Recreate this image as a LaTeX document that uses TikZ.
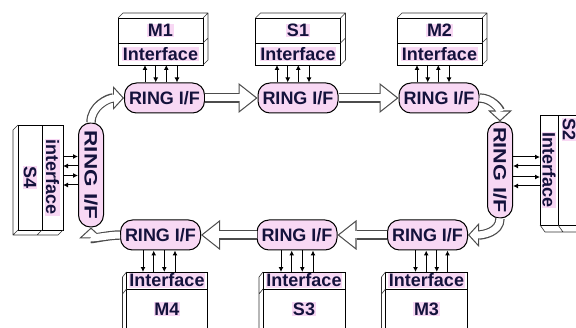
\documentclass[tikz,border=0pt]{standalone}
\usepackage{fontspec}
\setmainfont{Liberation Sans}
\usetikzlibrary{arrows.meta,calc}
\definecolor{pinkfill}{RGB}{248,216,244}
\definecolor{inknavy}{RGB}{20,18,60}
\setlength{\fboxsep}{0.6pt}
\newcommand{\pk}[1]{\colorbox{pinkfill}{#1}}

\begin{document}
\begin{tikzpicture}[x=1pt, y=1pt,
  every node/.style={font=\fontsize{18}{19}\selectfont\bfseries, text=inknavy, inner sep=0pt},
  ring/.style={draw, line width=1pt, fill=pinkfill, rounded corners=12pt, minimum width=80pt, minimum height=30pt},
  ringv/.style={ring, minimum width=25pt},
  cell/.style={draw, line width=0.8pt, fill=white, outer sep=0pt},
  depth/.style={draw=black!80, line width=0.6pt, line join=round},
  bus/.style={line width=1pt, -{Latex[length=5pt, width=5pt]}},
  flow/.style={draw=black!70, line width=9.4pt, -{Triangle[length=19pt, width=30pt, line width=0pt]},
    postaction={draw=white, line width=7pt, shorten >=1.9pt, -{Triangle[length=15.9pt, width=25.1pt, line width=0pt]}}},
  flowc/.style={draw=black!70, line width=9.4pt, -{Triangle[length=11pt, width=24pt, line width=0pt]},
    postaction={draw=white, line width=7pt, shorten >=1.6pt, -{Triangle[length=8.2pt, width=17.9pt, line width=0pt]}}}]
  \useasboundingbox (0,0) rectangle (576,327);

  % ring interfaces
  \node[ring] (r1) at (164.5,229) {RING I/F};
  \node[ring] (r2) at (298,229) {RING I/F};
  \node[ring] (r3) at (439,229) {RING I/F};
  \node[ringv, minimum height=96pt] (rv) at (500,157) {\rotatebox{-90}{\scalebox{1.2}[1]{RING I/F}}};
  \node[ring] (b3) at (427.5,92) {RING I/F};
  \node[ring] (b2) at (297,92) {RING I/F};
  \node[ring] (b1) at (160.5,92) {RING I/F};
  \node[ringv, minimum height=104pt] (lv) at (91,152) {\rotatebox{-90}{\scalebox{1.25}[1]{RING I/F}}};

  % modules above the ring
  \node[cell, minimum width=85pt, minimum height=25pt] (m1) at (160.5,296.5) {\pk{M1}};
  \node[cell, minimum width=85pt, minimum height=22pt, anchor=north] (m1-if) at (m1.south) {\pk{Interface}};
  \node[cell, minimum width=85pt, minimum height=25pt] (s1) at (298,296.5) {\pk{S1}};
  \node[cell, minimum width=85pt, minimum height=22pt, anchor=north] (s1-if) at (s1.south) {\pk{Interface}};
  \node[cell, minimum width=85pt, minimum height=25pt] (m2) at (439.5,296.5) {\pk{M2}};
  \node[cell, minimum width=85pt, minimum height=22pt, anchor=north] (m2-if) at (m2.south) {\pk{Interface}};
  \foreach \b in {m1,s1,m2}
    \draw[depth] (\b.north west) -- ++(5,5) -- ($(\b.north east)+(5,5)$) -- ($(\b-if.south east)+(5,5)$) -- (\b-if.south east)
      (\b.north east) -- ++(5,5) (\b-if.north east) -- ++(5,5);

  % modules below the ring
  \node[cell, minimum width=81pt, minimum height=17pt] (m4-if) at (167,46.5) {\pk{Interface}};
  \node[cell, minimum width=81pt, minimum height=40pt, anchor=north] (m4) at (m4-if.south) {\pk{M4}};
  \node[cell, minimum width=82pt, minimum height=17pt] (s3-if) at (304,46.5) {\pk{Interface}};
  \node[cell, minimum width=82pt, minimum height=40pt, anchor=north] (s3) at (s3-if.south) {\pk{S3}};
  \node[cell, minimum width=82pt, minimum height=17pt] (m3-if) at (426.5,46.5) {\pk{Interface}};
  \node[cell, minimum width=82pt, minimum height=40pt, anchor=north] (m3) at (m3-if.south) {\pk{M3}};
  \foreach \b in {m4,s3,m3}
    \draw[depth] (\b-if.north west) -- ++(-4,-5) -- ($(\b.south west)+(-4,-5)$) -- (\b.south west)
      (\b-if.south west) -- ++(-4,-5);

  % modules at the sides
  \node[cell, minimum width=24pt, minimum height=105pt] (s4) at (30,149.5) {\rotatebox{-90}{\pk{S4}}};
  \node[cell, minimum width=21pt, minimum height=105pt, anchor=west] (s4-if) at (s4.east) {\rotatebox{-90}{\pk{interface}}};
  \draw[depth] (s4.north west) -- ++(-5,-5) -- ($(s4.south west)+(-5,-5)$) -- ($(s4-if.south east)+(-5,-5)$) -- (s4-if.south east)
    (s4.south west) -- ++(-5,-5) (s4.south east) -- ++(-5,-5);
  \node[cell, minimum width=18pt, minimum height=110pt] (s2-if) at (549,157) {\rotatebox{-90}{\pk{Interface}}};
  \node[cell, minimum width=22pt, minimum height=110pt, anchor=west] (s2) at (s2-if.east) {\rotatebox{-90}{\makebox[104pt][l]{\pk{S2}}}};
  \draw[depth] (s2-if.south west) -- ++(5,-7) -- ($(s2.south east)+(5,-7)$)
    (s2-if.south east) -- ++(5,-7);

  % buses between ring interfaces and modules
  \foreach \r/\b/\c in {r1/m1/-3.5, r2/s1/-5, r3/m2/-6} {
    \foreach \dx in {-16,5.3}
      \draw[bus] ($(\r.north)+(\dx+\c,0)$) -- ($(\r.north |- \b-if.south)+(\dx+\c,0)$);
    \foreach \dx in {-5.3,16}
      \draw[bus] ($(\r.north |- \b-if.south)+(\dx+\c,0)$) -- ($(\r.north)+(\dx+\c,0)$);
  }
  \foreach \r/\b/\c in {b1/m4/-1.5, b2/s3/0, b3/m3/4} {
    \foreach \dx in {-16,5.3}
      \draw[bus] ($(\r.south)+(\dx+\c,0)$) -- ($(\r.south |- \b-if.north)+(\dx+\c,0)$);
    \foreach \dx in {-5.3,16}
      \draw[bus] ($(\r.south |- \b-if.north)+(\dx+\c,0)$) -- ($(\r.south)+(\dx+\c,0)$);
  }
  \foreach \dy in {18.5,-0.5}
    \draw[bus] ([yshift=\dy pt]lv.west -| s4-if.east) -- ([yshift=\dy pt]lv.west);
  \foreach \dy in {9,-10}
    \draw[bus] ([yshift=\dy pt]lv.west) -- ([yshift=\dy pt]lv.west -| s4-if.east);
  \foreach \dy in {13,-7}
    \draw[bus] ([yshift=\dy pt]rv.east) -- ([yshift=\dy pt]rv.east -| s2-if.west);
  \foreach \dy in {4,-16}
    \draw[bus] ([yshift=\dy pt]rv.east -| s2-if.west) -- ([yshift=\dy pt]rv.east);

  % ring data flow
  \draw[flow] (r1.east) -- (r2.west);
  \draw[flow] (r2.east) -- (r3.west);
  \draw[flowc] (r3.east) to[out=0, in=90] (rv.north);
  \draw[flowc] (rv.south) to[out=-90, in=0] (b3.east);
  \draw[flow] (b3.west) -- (b2.east);
  \draw[flow] (b2.west) -- (b1.east);
  \draw[flowc] (b1.west) to[out=180, in=-90] (lv.south);
  \draw[flowc] (lv.north) to[out=90, in=180] (r1.west);
\end{tikzpicture}
\end{document}
